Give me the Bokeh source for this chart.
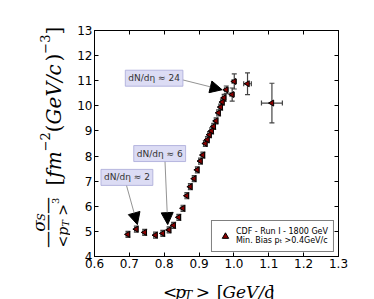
import numpy as np
from bokeh.plotting import figure
from bokeh.layouts import row, column
from bokeh.models import (ColumnDataSource, Whisker, TeeHead, Label, Arrow, NormalHead,
                          FixedTicker, NumeralTickFormatter, LinearAxis, Range1d)
from bokeh.embed import file_html
from bokeh.resources import INLINE

# ---------------- data ----------------
pt_mean = [0.696, 0.720, 0.744, 0.775, 0.796, 0.814, 0.827, 0.842, 0.854, 0.865,
           0.875, 0.886, 0.895, 0.904, 0.911, 0.918, 0.924, 0.930, 0.936, 0.942,
           0.949, 0.956, 0.962, 0.967, 0.972, 0.978, 0.995, 1.001, 1.039, 1.109]
sigma_ratio = [4.88, 5.09, 4.96, 4.85, 4.92, 5.06, 5.24, 5.56, 5.92, 6.42,
               6.78, 7.10, 7.45, 7.80, 8.04, 8.50, 8.65, 8.85, 9.00, 9.18,
               9.40, 9.72, 9.95, 10.15, 10.32, 10.64, 10.45, 10.97, 10.88, 10.11]
pt_err = [0.005, 0.005, 0.005, 0.005, 0.005, 0.005, 0.005, 0.005, 0.005, 0.005,
          0.005, 0.005, 0.005, 0.005, 0.005, 0.005, 0.005, 0.005, 0.005, 0.005,
          0.005, 0.005, 0.005, 0.005, 0.005, 0.005, 0.006, 0.006, 0.011, 0.030]
sigma_err = [0.12, 0.12, 0.12, 0.12, 0.12, 0.12, 0.12, 0.12, 0.12, 0.12,
             0.12, 0.12, 0.12, 0.12, 0.12, 0.12, 0.12, 0.12, 0.12, 0.12,
             0.12, 0.12, 0.12, 0.12, 0.14, 0.15, 0.26, 0.30, 0.43, 0.79]

x_ticks = [0.6, 0.7, 0.8, 0.9, 1.0, 1.1, 1.2, 1.3]
y_ticks = [4, 5, 6, 7, 8, 9, 10, 11, 12, 13]

ann_text = ["dN/dη ≈ 2", "dN/dη ≈ 6", "dN/dη ≈ 24"]
ann_x = [0.693, 0.787, 0.771]
ann_y = [7.15, 8.10, 11.10]
arrow_x0 = [0.690, 0.802, 0.848]
arrow_y0 = [6.92, 7.87, 11.05]
arrow_x1 = [0.723, 0.810, 0.966]
arrow_y1 = [5.27, 5.27, 10.64]

legend_text = "CDF - Run I - 1800 GeV\nMin. Bias pₜ >0.4GeV/c"

# ---------------- layout constants (pixels) ----------------
YL_W = 70                      # width of the y-label strip
FT, FH = 30, 226               # frame top border and frame height
MAIN_W = 288
MAIN_H = FT + FH + 16
XL_H = 27                      # x-label strip height
TOTAL_H = MAIN_H + XL_H

# ---------------- main figure ----------------
p = figure(width=MAIN_W, height=MAIN_H, title=None,
           x_range=Range1d(0.6, 1.3), y_range=Range1d(4, 13),
           output_backend="svg", toolbar_location=None,
           min_border_left=24, min_border_top=FT, min_border_right=20, min_border_bottom=16)
p.background_fill_color = "white"
p.border_fill_color = "white"
p.outline_line_color = "black"
p.outline_line_width = 1
p.xgrid.visible = False
p.ygrid.visible = False

def style_axis(ax, ticks, fmt, show_labels, standoff=2):
    ax.ticker = FixedTicker(ticks=ticks)
    ax.formatter = NumeralTickFormatter(format=fmt)
    ax.major_tick_in = 4
    ax.major_tick_out = 0
    ax.minor_tick_in = 0
    ax.minor_tick_out = 0
    ax.axis_line_color = "black"
    ax.major_tick_line_color = "black"
    ax.major_label_text_font = "DejaVu Sans"
    ax.major_label_text_color = "black"
    ax.major_label_text_font_size = "12px"
    ax.major_label_standoff = standoff
    if not show_labels:
        ax.major_label_text_alpha = 0
        ax.major_label_text_font_size = "1px"

style_axis(p.xaxis[0], x_ticks, "0.0", True)
style_axis(p.yaxis[0], y_ticks, "0", True)
top = LinearAxis()
right = LinearAxis()
style_axis(top, x_ticks, "0.0", False)
style_axis(right, y_ticks, "0", False)
p.add_layout(top, "above")
p.add_layout(right, "right")

x = np.array(pt_mean)
y = np.array(sigma_ratio)
ex = np.array(pt_err)
ey = np.array(sigma_err)
src = ColumnDataSource(dict(x=x, y=y, xl=x - ex, xu=x + ex, yl=y - ey, yu=y + ey))

err_col = "#444444"
p.add_layout(Whisker(source=src, base="x", lower="yl", upper="yu", dimension="height",
                     line_color=err_col, line_width=1.2,
                     lower_head=TeeHead(size=5, line_color=err_col, line_width=1.2),
                     upper_head=TeeHead(size=5, line_color=err_col, line_width=1.2)))
p.add_layout(Whisker(source=src, base="y", lower="xl", upper="xu", dimension="width",
                     line_color=err_col, line_width=1.2,
                     lower_head=TeeHead(size=5, line_color=err_col, line_width=1.2),
                     upper_head=TeeHead(size=5, line_color=err_col, line_width=1.2)))

p.scatter("x", "y", source=src, marker="triangle", angle=np.pi / 2, size=6,
          fill_color="#8b0000", line_color="black", line_width=1,
          legend_label=legend_text)

leg = p.legend[0]
leg.location = "bottom_right"
leg.label_text_font = "DejaVu Sans"
leg.label_text_font_size = "8px"
leg.label_text_line_height = 1.6
leg.label_text_color = "black"
leg.border_line_color = "black"
leg.border_line_width = 1
leg.background_fill_alpha = 1
leg.padding = 5
leg.margin = 4
leg.glyph_width = 16
leg.label_standoff = 3

for i in range(len(ann_text)):
    p.add_layout(Arrow(x_start=arrow_x0[i], y_start=arrow_y0[i], x_end=arrow_x1[i], y_end=arrow_y1[i],
                       line_color="#777777", line_width=0.8,
                       end=NormalHead(size=12, fill_color="black", line_color="black")))
    p.add_layout(Label(x=ann_x[i], y=ann_y[i], text=ann_text[i], text_align="center",
                       text_baseline="middle", text_font="DejaVu Sans", text_font_size="9px",
                       text_color="#333333", background_fill_color="#dcdcf4",
                       border_line_color="#a8a8d8", border_line_width=0.8, padding=3))

# ---------------- helper strips for the axis titles ----------------
def strip(w, h):
    f = figure(width=w, height=h, title=None, x_range=Range1d(0, w), y_range=Range1d(0, h),
               output_backend="svg", toolbar_location=None, min_border=0,
               x_axis_location=None, y_axis_location=None)
    f.xgrid.visible = False
    f.ygrid.visible = False
    f.outline_line_color = None
    f.background_fill_color = None
    f.border_fill_color = None
    return f

ylab = strip(YL_W, TOTAL_H)
xlab = strip(MAIN_W, XL_H)

W = {" ": .318, "<": .838, ">": .838, "[": .390, "]": .390, "(": .390, ")": .390,
     "/": .337, "−": .838, "2": .636, "3": .636, "p": .640, "T": .668, "G": .775,
     "e": .592, "V": .722, "c": .720, "f": .370, "m": .948, "σ": .636, "S": .685}

def textw(s, size):
    return sum(W.get(ch, 0.6) for ch in s) * size

def total(pieces):
    return sum(textw(t, s) for t, s, _, _ in pieces)

def run(fig, h, pieces, x0, y0, rotated, font="DejaVu Serif"):
    """x0, y0 in the strip's own pixels, y measured downward from its top.
    Leading spaces of a piece become an explicit gap (SVG would collapse them)."""
    pos = 0.0
    for text, size, italic, shift in pieces:
        body = text.lstrip(" ")
        pos += textw(text[:len(text) - len(body)], size)
        if rotated:
            cx, cy = x0 - shift, y0 - pos
        else:
            cx, cy = x0 + pos, y0 - shift
        fig.add_layout(Label(x=cx, y=h - cy, text=body,
                             text_font=font, text_font_size=f"{size}px",
                             text_font_style="italic" if italic else "normal",
                             text_align="left", text_baseline="alphabetic", text_color="black",
                             angle=np.pi / 2 if rotated else 0))
        pos += textw(body, size)

# x label
xl = [("<", 17, False, 0), ("p", 17, True, 0), ("T", 12, True, -4), (" >", 17, False, 0),
      ("  [", 17, False, 0), ("GeV/c", 17, True, 0), ("]", 17, False, 0)]
run(xlab, XL_H, xl, 24 + 122 - total(xl) / 2, 19.5, False)

# y label: fraction and bracket
num = [("σ", 17, True, 0), ("S", 11, True, -3)]
den = [("<", 14, False, 0), ("p", 14, True, 0), ("T", 10, True, -3), (" >", 14, False, 0),
       ("3", 10, False, 7)]
fc = 222
run(ylab, TOTAL_H, num, 38, fc + total(num) / 2, True)
run(ylab, TOTAL_H, den, 62, fc + total(den) / 2, True)
ylab.add_layout(Label(x=46, y=TOTAL_H - fc, text="———", text_font="DejaVu Sans",
                      text_font_size="17px", text_align="center", text_baseline="middle",
                      angle=np.pi / 2, text_color="black"))
br = [("[", 20, False, 0), ("fm", 20, True, 0), ("−2", 13, False, 9), ("(", 20, False, 0),
      ("GeV/c", 20, True, 0), (")", 20, False, 0), ("−3", 13, False, 9), ("]", 20, False, 0)]
run(ylab, TOTAL_H, br, 53, 185, True)

layout = row(ylab, column(p, xlab))
open("out.html", "w").write(file_html(layout, INLINE))
